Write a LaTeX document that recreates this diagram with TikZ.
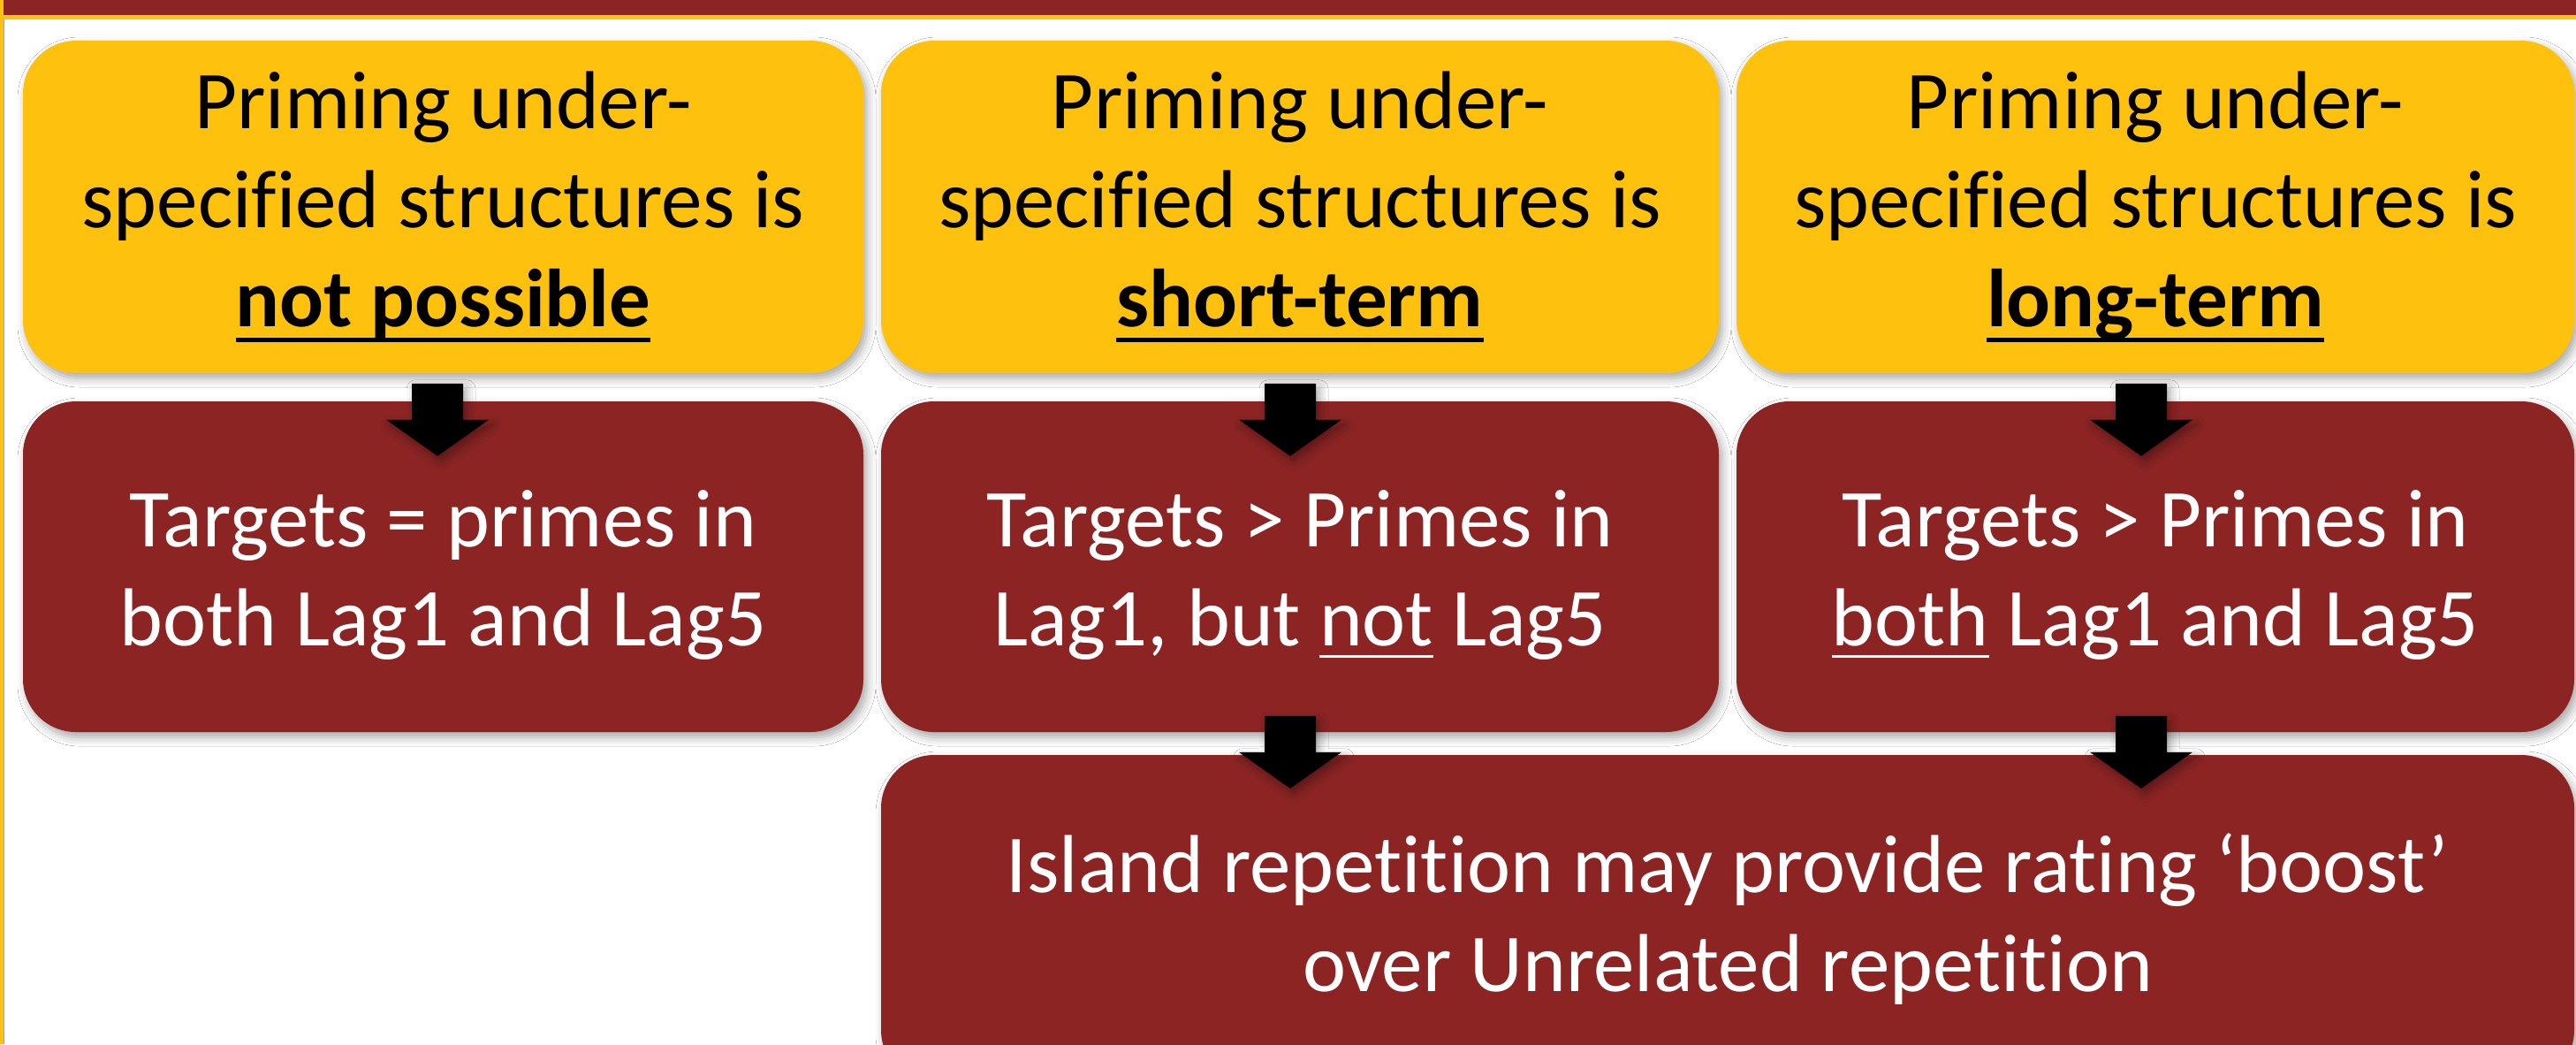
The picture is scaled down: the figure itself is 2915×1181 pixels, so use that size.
\documentclass[tikz,border=0pt]{standalone}
\usepackage{fontspec}
\setmainfont{Carlito}[Ligatures={TeX,NoCommon}]
\usetikzlibrary{shadows.blur}

\definecolor{brickred}{RGB}{140,36,36}
\definecolor{gold}{RGB}{254,194,14}

% underline drawn at a fixed depth below the baseline, crossing descenders
\newcommand\ulbox[3]{\setbox0\hbox{#3}\rlap{\rule[#1]{\wd0}{#2}}\box0\relax}
\newcommand\ulbold[1]{\ulbox{-4.6pt}{1.4pt}{#1}}
\newcommand\ulplain[1]{\ulbox{-3.6pt}{0.9pt}{#1}}
% taller first line, to sit the text a little lower in its box
\newcommand\topstrut{\rule{0pt}{20.5pt}}

\tikzset{
  softshadow/.style={blur shadow={shadow xshift=1pt, shadow yshift=-1.5pt,
      shadow blur radius=2.5pt, shadow opacity=35}},
  card/.style={rectangle, rounded corners=15pt, inner sep=0pt, align=center,
      font=\fontsize{23.25}{28}\selectfont, softshadow},
  goldcard/.style={card, fill=gold, text=black, minimum height=94pt},
  redcard/.style={card, fill=brickred, text=white, minimum height=93.5pt},
  pics/blockarrow/.style={code={
      \fill[black, softshadow] (-29,0) -- (29,0) -- (29,41) -- (58,41)
          -- (0,82) -- (-58,41) -- (-29,41) -- cycle;}},
}

\begin{document}
\begin{tikzpicture}[x=0.25pt, y=-0.25pt]
  \useasboundingbox (0,0) rectangle (2915,1181);
  \fill[white] (0,0) rectangle (2915,1181);

  % header band and frame
  \fill[brickred] (0,0) rectangle (2915,17);
  \fill[gold] (0,17) rectangle (2915,22);
  \fill[gold] (0,0) rectangle (4,1181);
  \draw[gray!70, line width=0.25pt] (4.5,22) -- (4.5,1181);

  % first row: how long priming lasts
  \node[goldcard, minimum width=237.75pt] (p1) at (501.5,234)
    {Priming under-\\specified structures is\\\textbf{\ulbold{not possible}}};
  \node[goldcard, minimum width=237pt] (p2) at (1471,234)
    {Priming under-\\specified structures is\\\textbf{\ulbold{short-term}}};
  \node[goldcard, minimum width=237pt] (p3) at (2439,234)
    {Priming under-\\specified structures is\\\textbf{\ulbold{long-term}}};

  % second row: predicted pattern of targets vs primes
  \node[redcard, minimum width=237.75pt] (r1) at (501.5,641)
    {\topstrut Targets = primes in\\both Lag1 and Lag5};
  \node[redcard, minimum width=237pt] (r2) at (1471,641)
    {\topstrut Targets > Primes in\\Lag1, but \ulplain{not} Lag5};
  \node[redcard, minimum width=237pt] (r3) at (2439,641)
    {\topstrut Targets > Primes in\\\ulplain{both} Lag1 and Lag5};

  % third row: consequence for island repetition
  \node[redcard, minimum width=479pt, minimum height=92.75pt] (b) at (1955,1039.5)
    {Island repetition may provide rating ‘boost’\\over Unrelated repetition};

  % block arrows between the rows
  \pic at ([xshift=-1.6pt, yshift=-2.75pt]p1.south) {blockarrow};
  \pic at ([xshift=-2.75pt, yshift=-2.75pt]p2.south) {blockarrow};
  \pic at ([xshift=-4pt, yshift=-2.75pt]p3.south) {blockarrow};
  \pic at ([xshift=-2.75pt, yshift=4.75pt]r2.south) {blockarrow};
  \pic at ([xshift=-4pt, yshift=4.75pt]r3.south) {blockarrow};
\end{tikzpicture}
\end{document}
